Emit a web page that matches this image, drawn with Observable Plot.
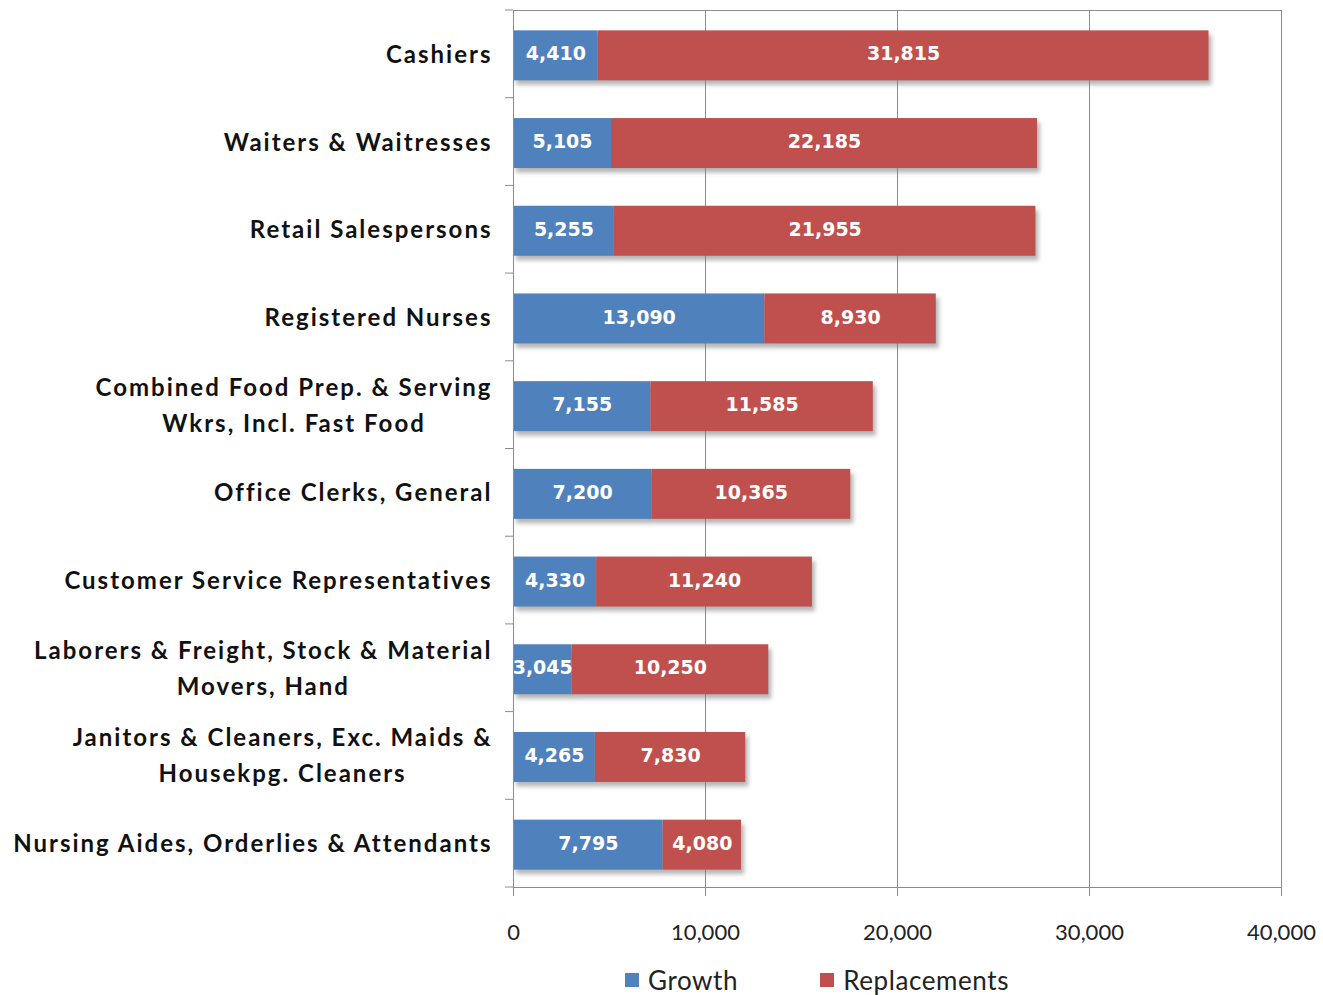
<!DOCTYPE html>
<html><head><meta charset="utf-8">
<script src="https://cdn.jsdelivr.net/npm/d3@7"></script>
<script src="https://cdn.jsdelivr.net/npm/@observablehq/plot@0.6"></script>
<style>
body{margin:0;background:#fff;}
#legend{display:flex;align-items:center;height:40px;margin-left:625px;font-family:Lato,sans-serif;font-size:26px;letter-spacing:0.6px;color:#222;}
#legend .item{display:flex;align-items:center;}
#legend .sw{width:14px;height:14px;margin-right:9px;}
g[aria-label="y-axis tick label"]{letter-spacing:2px;}
</style></head><body><div id="chart"></div><div id="legend"></div>
<script>
const occupations = [
  "Cashiers",
  "Waiters & Waitresses",
  "Retail Salespersons",
  "Registered Nurses",
  "Combined Food Prep. & Serving\nWkrs, Incl. Fast Food",
  "Office Clerks, General",
  "Customer Service Representatives",
  "Laborers & Freight, Stock & Material\nMovers, Hand",
  "Janitors & Cleaners, Exc. Maids &\nHousekpg. Cleaners",
  "Nursing Aides, Orderlies & Attendants"
];
const growth = [4410, 5105, 5255, 13090, 7155, 7200, 4330, 3045, 4265, 7795];
const replacements = [31815, 22185, 21955, 8930, 11585, 10365, 11240, 10250, 7830, 4080];
const seriesNames = ["Growth", "Replacements"];
const seriesColors = ["#4F81BD", "#C0504D"];
const xTicks = [0, 10000, 20000, 30000, 40000];

const rows = occupations.flatMap((o, i) => [
  {occupation: o, series: seriesNames[0], value: growth[i]},
  {occupation: o, series: seriesNames[1], value: replacements[i]}
]);
const fmt = d3.format(",");

const plot = Plot.plot({
  width: 1323, height: 960,
  marginLeft: 513, marginRight: 42, marginTop: 10, marginBottom: 73,
  style: {fontFamily: "Lato, sans-serif", background: "#fff", color: "#222"},
  x: {domain: [0, 40000], ticks: xTicks, label: null},
  y: {domain: occupations, paddingInner: 0.43, paddingOuter: 0.215, round: false, label: null},
  color: {domain: seriesNames, range: seriesColors},
  marks: [
    Plot.gridX(xTicks, {stroke: "#8c8c8c", strokeOpacity: 1}),
    Plot.barX(rows, Plot.stackX({x: "value", y: "occupation", fill: "#7a7a7a", fillOpacity: 0.55, dx: 3, dy: 6})),
    Plot.barX(rows, Plot.stackX({x: "value", y: "occupation", fill: "series", dy: 1.5})),
    Plot.text(rows, Plot.stackX({x: "value", y: "occupation", text: d => fmt(d.value), fill: "white", dy: 0,
      fontWeight: "bold", fontSize: 19, fontFamily: "DejaVu Sans"})),
    Plot.frame({stroke: "#8c8c8c"}),
    Plot.axisX({ticks: xTicks, tickFormat: fmt, tickSize: 9, tickPadding: 28, fontSize: 22, stroke: "#8c8c8c", fill: "#222", label: null}),
    Plot.axisY({tickSize: 0, tickPadding: 21, fontSize: 24, fontWeight: "bold", lineHeight: 1.5, fill: "#111", dy: -3, label: null})
  ]
});
document.getElementById("chart").appendChild(plot);

// post-process: shadow blur, band-boundary ticks, centered multi-line labels
const svg = d3.select(plot);
const defs = svg.insert("defs", ":first-child");
defs.append("filter").attr("id", "shadowblur").attr("x", "-10%").attr("y", "-50%").attr("width", "120%").attr("height", "200%")
  .append("feGaussianBlur").attr("stdDeviation", 2.2);
const barGroups = plot.querySelectorAll('g[aria-label="bar"]');
if (barGroups.length) barGroups[0].setAttribute("filter", "url(#shadowblur)");

const ys = plot.scale("y"), xs = plot.scale("x");
const x0 = xs.apply(0);
const gap = (ys.step - ys.bandwidth) / 2;
const bounds = occupations.map(o => ys.apply(o) - gap);
bounds.push(bounds[bounds.length - 1] + ys.step);
const tg = svg.append("g").attr("stroke", "#8c8c8c");
bounds.forEach(b => tg.append("line").attr("x1", x0 - 8).attr("x2", x0).attr("y1", b).attr("y2", b));

plot.querySelectorAll('g[aria-label="y-axis tick label"] text').forEach(t => {
  const spans = t.querySelectorAll("tspan");
  if (spans.length > 1) {
    const w = Array.from(spans, s => s.getComputedTextLength());
    const W = Math.max(...w);
    spans.forEach((s, i) => s.setAttribute("dx", -(W - w[i]) / 2));
  }
});

const legend = d3.select("#legend");
seriesNames.forEach((n, i) => {
  const it = legend.append("div").attr("class", "item").style("margin-right", i === 0 ? "82px" : "0");
  it.append("div").attr("class", "sw").style("background", seriesColors[i]);
  it.append("span").text(n);
});
</script></body></html>
